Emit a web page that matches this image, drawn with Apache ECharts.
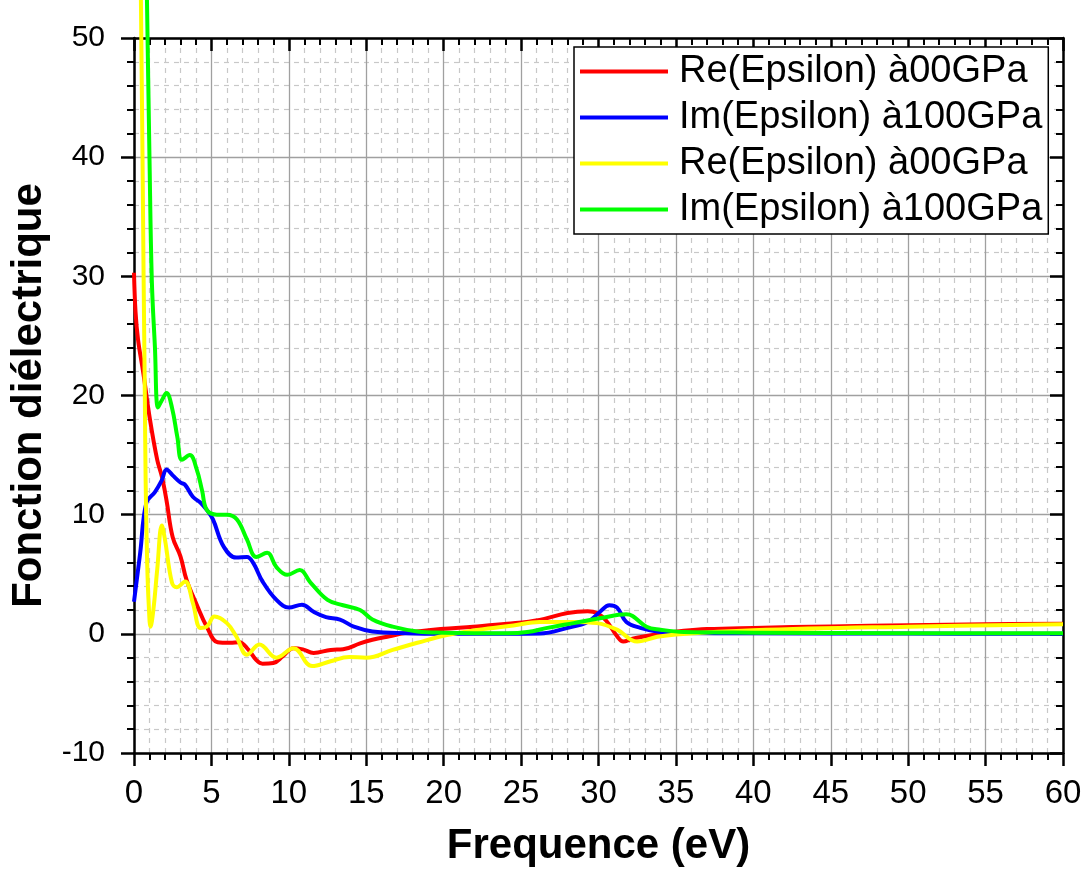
<!DOCTYPE html>
<html>
<head>
<meta charset="utf-8">
<script src="https://cdn.jsdelivr.net/npm/echarts@6/dist/echarts.min.js"></script>
<style>html,body{margin:0;padding:0;background:#fff;}#c{width:1086px;height:872px;}</style>
</head>
<body>
<div id="c"></div>
<script>
// ---- data ----
var seriesNames = ['Re(Epsilon) à00GPa', 'Im(Epsilon) à100GPa', 'Re(Epsilon) à00GPa', 'Im(Epsilon) à100GPa'];
var xTicks = [0, 5, 10, 15, 20, 25, 30, 35, 40, 45, 50, 55, 60];
var yTicks = [-10, 0, 10, 20, 30, 40, 50];

var redX = [0, 0.1, 0.26, 0.6, 1.03, 1.5, 1.8, 2.1, 2.5, 3.0, 3.4, 4.1, 4.7, 5.4, 6.2, 6.8, 7.4, 7.9, 8.3, 9.0, 9.6, 10.3, 10.9, 11.6, 12.7, 13.5, 14.6, 15.4, 16.5, 17.6, 19.8, 21.9, 24.1, 26.2, 28.0, 29.3, 29.9, 30.5, 31.2, 31.6, 32.2, 33.0, 34.0, 35.5, 37, 40, 45, 50, 55, 60];
var redY = [30.3, 27, 24.7, 21.9, 18, 14.6, 13.2, 11.2, 8.1, 6.5, 4.5, 2.3, 0.6, -0.7, -0.75, -0.7, -1.35, -2.2, -2.5, -2.45, -1.9, -1.2, -1.3, -1.6, -1.35, -1.3, -0.8, -0.5, -0.2, 0.08, 0.4, 0.6, 0.84, 1.17, 1.75, 1.9, 1.75, 1.1, -0.2, -0.65, -0.4, -0.2, 0.0, 0.25, 0.4, 0.5, 0.62, 0.72, 0.8, 0.85];

var blueX = [0, 0.4, 0.8, 1.35, 1.8, 2.1, 2.5, 3.0, 3.3, 3.8, 4.3, 4.7, 5.1, 5.8, 6.6, 7.3, 7.7, 8.3, 9.2, 10.0, 10.85, 11.6, 12.4, 13.3, 14.2, 15.4, 17.6, 20, 24, 26.2, 28, 29.3, 30.1, 30.7, 31.2, 31.8, 32.7, 33.8, 35, 40, 50, 60];
var blueY = [2.7, 6.8, 11.0, 11.9, 12.9, 13.8, 13.3, 12.7, 12.5, 11.5, 11.0, 10.4, 9.6, 7.3, 6.4, 6.45, 5.95, 4.4, 2.85, 2.2, 2.45, 1.85, 1.4, 1.2, 0.6, 0.2, 0.05, 0.0, 0.0, 0.02, 0.5, 1.0, 1.85, 2.4, 2.2, 1.0, 0.5, 0.2, 0.1, 0.05, 0.02, 0.0];

var yellowX = [0.38, 0.45, 0.55, 0.62, 0.7, 0.75, 0.85, 0.95, 1.07, 1.25, 1.5, 1.8, 2.0, 2.45, 2.75, 3.3, 3.8, 4.3, 4.7, 5.2, 6.0, 6.6, 7.3, 8.1, 9.2, 10.3, 11.5, 12.7, 13.9, 15.0, 16.7, 18.3, 20.2, 22.3, 24.5, 26.2, 28.4, 29.9, 31.2, 32.5, 33.8, 35, 40, 50, 60];
var yellowY = [62, 52.7, 40, 30, 20, 13, 6, 2.5, 0.6, 2.0, 5.4, 9.1, 7.9, 4.3, 3.9, 4.4, 2.6, 0.5, 0.6, 1.45, 0.9, -0.2, -1.75, -0.9, -2.0, -1.2, -2.7, -2.3, -1.95, -2.0, -1.35, -0.75, -0.1, 0.35, 0.7, 1.0, 1.0, 0.9, 0.35, -0.65, -0.25, -0.05, 0.3, 0.6, 0.8];

var greenX = [0.75, 0.84, 1.0, 1.15, 1.35, 1.55, 1.8, 2.1, 2.45, 2.8, 3.1, 3.6, 4.05, 4.4, 4.7, 5.35, 6.0, 6.65, 7.3, 7.9, 8.6, 9.2, 9.9, 10.7, 11.4, 12.5, 13.5, 14.6, 15.4, 16.7, 18.3, 20, 24.1, 25.4, 26.7, 28.4, 30.1, 31.8, 32.2, 33.1, 34, 35.5, 40, 50, 60];
var greenY = [60, 53, 40, 29.7, 24.1, 19.0, 19.6, 20.2, 19.0, 16.5, 14.6, 15.0, 13.8, 12, 10.4, 10.0, 10.0, 9.6, 7.9, 6.45, 6.8, 5.6, 4.95, 5.35, 4.3, 2.85, 2.4, 2.0, 1.2, 0.6, 0.2, 0.1, 0.05, 0.15, 0.5, 0.9, 1.3, 1.65, 1.5, 0.6, 0.35, 0.15, 0.1, 0.05, 0.05];

var colors = ['#ff0000', '#0000ff', '#ffff00', '#00ff00'];

function pairs(xs, ys) { return xs.map(function (x, i) { return [x, ys[i]]; }); }
var allData = [pairs(redX, redY), pairs(blueX, blueY), pairs(yellowX, yellowY), pairs(greenX, greenY)];
// unique internal keys (legend needs distinct names); displayed text is seriesNames
var keys = seriesNames.map(function (n, i) { return 's' + i; });

var chart = echarts.init(document.getElementById('c'), null, { renderer: 'canvas' });

var sans = "'Liberation Sans', Arial, sans-serif";

function xAxisBase(pos, inside) {
  return {
    type: 'value', position: pos, min: xTicks[0], max: xTicks[xTicks.length - 1], interval: 5,
    axisLine: { show: true, onZero: false, lineStyle: { color: '#000', width: 2.5 } },
    axisTick: { show: true, inside: inside, length: 13, lineStyle: { color: '#000', width: 2.5 } },
    minorTick: { show: true, splitNumber: 5, length: 7, lineStyle: { color: '#000', width: 2 } },
    splitLine: { show: false }, minorSplitLine: { show: false },
    axisLabel: { show: false }
  };
}
function yAxisBase(pos, inside) {
  return {
    type: 'value', position: pos, min: yTicks[0], max: yTicks[yTicks.length - 1], interval: 10,
    axisLine: { show: true, onZero: false, lineStyle: { color: '#000', width: 2.5 } },
    axisTick: { show: true, inside: inside, length: 13, lineStyle: { color: '#000', width: 2.5 } },
    minorTick: { show: true, splitNumber: 5, length: 7, lineStyle: { color: '#000', width: 2 } },
    splitLine: { show: false }, minorSplitLine: { show: false },
    axisLabel: { show: false }
  };
}

var xMain = xAxisBase('bottom', false);
xMain.splitLine = { show: true, lineStyle: { color: '#a0a0a0', width: 1.3 } };
xMain.minorSplitLine = { show: true, lineStyle: { color: '#c8c8c8', width: 1.2, type: [5, 5] } };
xMain.axisLabel = { show: true, margin: 24, color: '#000', fontFamily: sans, fontSize: 33 };
xMain.name = 'Frequence (eV)';
xMain.nameLocation = 'middle';
xMain.nameGap = 72;
xMain.nameTextStyle = { color: '#000', fontFamily: sans, fontWeight: 'bold', fontSize: 42 };

var yMain = yAxisBase('left', false);
yMain.splitLine = { show: true, lineStyle: { color: '#a0a0a0', width: 1.3 } };
yMain.minorSplitLine = { show: true, lineStyle: { color: '#c8c8c8', width: 1.2, type: [5, 5] } };
yMain.axisLabel = { show: true, margin: 29, color: '#000', fontFamily: sans, fontSize: 30 };
yMain.name = 'Fonction diélectrique';
yMain.nameLocation = 'middle';
yMain.nameGap = 80;
yMain.nameTextStyle = { color: '#000', fontFamily: sans, fontWeight: 'bold', fontSize: 42 };

var series = allData.map(function (d, i) {
  return {
    name: keys[i], type: 'line', data: d, xAxisIndex: 0, yAxisIndex: 0,
    showSymbol: false, symbol: 'none', smooth: 0.4,
    clip: (i === 2 || i === 3) ? false : true,
    lineStyle: { color: colors[i], width: 4 }, itemStyle: { color: colors[i] },
    emphasis: { disabled: true }, animation: false, z: 3 + i
  };
});

chart.setOption({
  backgroundColor: '#fff',
  animation: false,
  grid: { left: 134, right: 23, top: 38, bottom: 119, containLabel: false, outerBoundsMode: 'none' },
  xAxis: [xMain, xAxisBase('top', true)],
  yAxis: [yMain, yAxisBase('right', true)],
  legend: {
    show: true, orient: 'vertical', left: 574, top: 47,
    backgroundColor: '#fff', borderColor: '#000', borderWidth: 1.5,
    padding: [3, 6, 3, 6], itemGap: 3, itemWidth: 88, itemHeight: 4, icon: 'rect',
    formatter: function (k) { return seriesNames[keys.indexOf(k)]; },
    textStyle: { color: '#000', fontFamily: sans, fontSize: 38, lineHeight: 43, padding: [0, 0, 0, 6] },
    data: keys.map(function (k, i) { return { name: k, itemStyle: { color: colors[i] } }; }),
    selectedMode: false, z: 20
  },
  series: series
});
</script>
</body>
</html>
